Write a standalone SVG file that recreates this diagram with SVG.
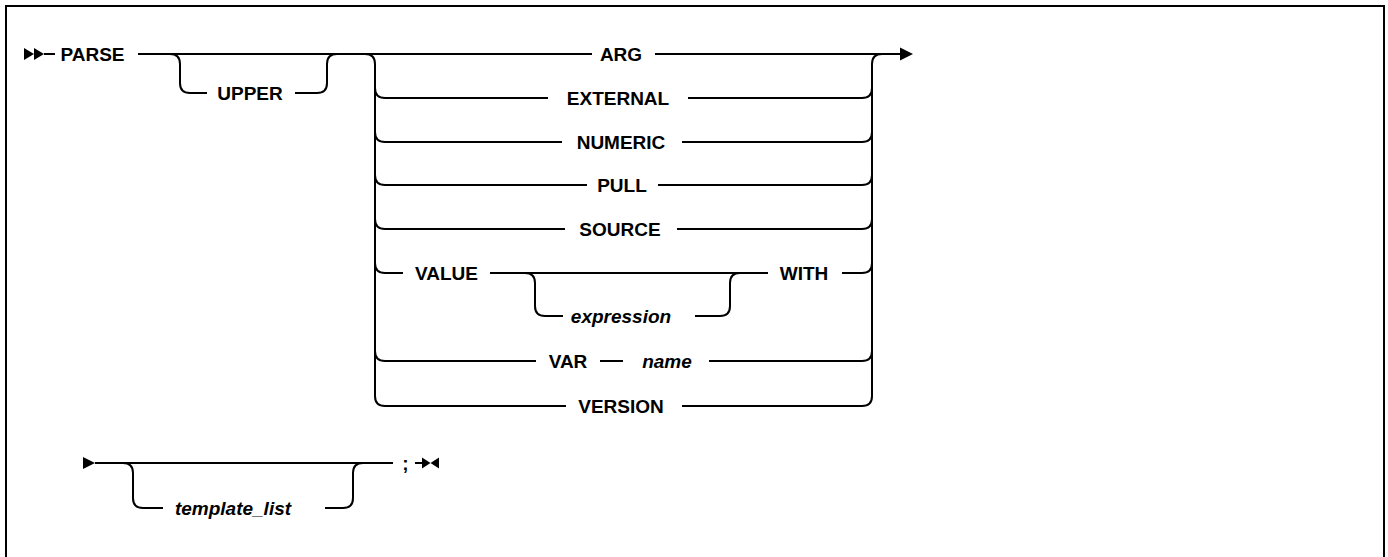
<svg xmlns="http://www.w3.org/2000/svg" width="1388" height="557" viewBox="0 0 1388 557">
<style>
.t{font-family:"Liberation Sans",Arial,sans-serif;font-weight:bold;font-size:19px;fill:#000;text-anchor:middle}
.i{font-style:italic}
.l{fill:none;stroke:#000;stroke-width:2}
.a{fill:#000;stroke:none}
</style>
<rect x="6" y="6" width="1378" height="580" fill="#fff" stroke="#000" stroke-width="2"/>
<g id="connectors">
<path class="l" d="M44,54 L55,54 M138,54 L592,54 M655,54 L900,54"/>
<path class="l" d="M170,54 Q180,54 180,64 L180,83 Q180,93 190,93 L207,93 M295,93 L317,93 Q327,93 327,83 L327,64 Q327,54 337,54"/>
<path class="l" d="M365,54 Q375,54 375,64 L375,396 Q375,406 385,406 M872,396 L872,64 Q872,54 882,54"/>
<path class="l" d="M375,88 Q375,98 385,98 L548,98 M688,98 L862,98 Q872,98 872,88"/>
<path class="l" d="M375,132 Q375,142 385,142 L562,142 M682,142 L862,142 Q872,142 872,132"/>
<path class="l" d="M375,175 Q375,185 385,185 L587,185 M658,185 L862,185 Q872,185 872,175"/>
<path class="l" d="M375,219 Q375,229 385,229 L565,229 M677,229 L862,229 Q872,229 872,219"/>
<path class="l" d="M375,263 Q375,273 385,273 L403,273 M490,273 L768,273 M842,273 L862,273 Q872,273 872,263"/>
<path class="l" d="M525,273 Q535,273 535,283 L535,306 Q535,316 545,316 L563,316 M695,316 L720,316 Q730,316 730,306 L730,283 Q730,273 740,273"/>
<path class="l" d="M375,351 Q375,361 385,361 L536,361 M600,361 L623,361 M709,361 L862,361 Q872,361 872,351"/>
<path class="l" d="M385,406 L566,406 M682,406 L862,406 Q872,406 872,396"/>
<path class="l" d="M95,463 L393,463"/>
<path class="l" d="M123,463 Q133,463 133,473 L133,498 Q133,508 143,508 L163,508 M325,508 L343,508 Q353,508 353,498 L353,473 Q353,463 363,463"/>
<path class="l" d="M415,463 L422,463"/>
<polygon class="a" points="24,48 34,54 24,60"/>
<polygon class="a" points="34,48 44,54 34,60"/>
<polygon class="a" points="900,47.5 913,54 900,60.5"/>
<polygon class="a" points="83,457 95,463 83,469"/>
<polygon class="a" points="422,457.5 430.5,463 422,468.5"/>
<polygon class="a" points="439,457.5 430.5,463 439,468.5"/>
</g>
<g id="node-parse"><text class="t" x="92.5" y="61">PARSE</text></g>
<g id="node-upper"><text class="t" x="250" y="100">UPPER</text></g>
<g id="node-arg"><text class="t" x="621" y="61">ARG</text></g>
<g id="node-external"><text class="t" x="618" y="105">EXTERNAL</text></g>
<g id="node-numeric"><text class="t" x="621" y="149">NUMERIC</text></g>
<g id="node-pull"><text class="t" x="622" y="192">PULL</text></g>
<g id="node-source"><text class="t" x="620" y="236">SOURCE</text></g>
<g id="node-value"><text class="t" x="446.5" y="280">VALUE</text></g>
<g id="node-expression"><text class="t i" x="621" y="323">expression</text></g>
<g id="node-with"><text class="t" x="804" y="280">WITH</text></g>
<g id="node-var"><text class="t" x="568" y="368">VAR</text></g>
<g id="node-name"><text class="t i" x="667" y="368">name</text></g>
<g id="node-version"><text class="t" x="621" y="413">VERSION</text></g>
<g id="node-template-list"><text class="t i" x="233" y="515">template_list</text></g>
<g id="node-semicolon"><text class="t" x="405.5" y="470">;</text></g>
</svg>
